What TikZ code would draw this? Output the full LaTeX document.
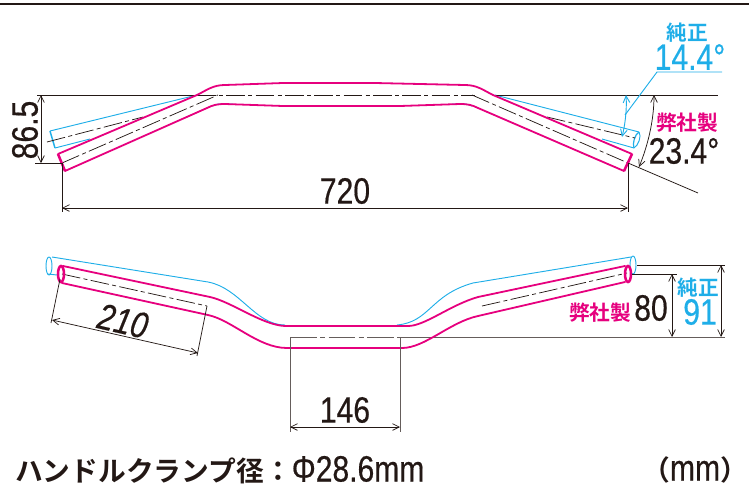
\documentclass[tikz,border=0pt]{standalone}
\usepackage{fontspec}
\usetikzlibrary{arrows.meta}
\setmainfont{Liberation Sans}
\newfontfamily\cond[FakeStretch=0.82,FakeBold=0.5]{Liberation Sans}
\newfontfamily\jp{Noto Sans CJK JP Bold}
\definecolor{pk}{HTML}{E6007E}
\definecolor{bl}{HTML}{1FAEE8}
\definecolor{ink}{HTML}{231815}
\tikzset{
  x=.75pt,y=-.75pt,
  pinkline/.style={draw=pk,line width=1.35pt,line cap=round,line join=round},
  blueline/.style={draw=bl,line width=.7pt,line join=round},
  thin ink/.style={draw=ink,line width=.55pt},
  center ink/.style={draw=ink,line width=.55pt,dash pattern=on 14pt off 2.5pt on 3pt off 2.5pt},
  gray ink/.style={draw=ink!70,line width=.75pt},
  dimline/.style={draw=ink,line width=.55pt,{Straight Barb[length=5pt,width=5pt]}-{Straight Barb[length=5pt,width=5pt]}},
  dimblue/.style={draw=bl,line width=.7pt,{Straight Barb[length=5pt,width=5pt]}-{Straight Barb[length=5pt,width=5pt]}},
  num/.style={font=\cond\fontsize{27.5}{27.5}\selectfont,text=ink,inner sep=0pt},
  numblue/.style={font=\cond\fontsize{27.5}{27.5}\selectfont,text=bl,inner sep=0pt},
  jppink/.style={font=\jp\fontsize{15.5}{15.5}\selectfont,text=pk,inner sep=0pt},
  jpblue/.style={font=\jp\fontsize{15.5}{15.5}\selectfont,text=bl,inner sep=0pt},
}
\begin{document}
\begin{tikzpicture}
\useasboundingbox (0,0) rectangle (749,486);
\draw[draw=ink,line width=1.8pt] (0,4) -- (749,4);

% ---- top view: original bar (blue)
\draw[blueline] (50,131) -- (197,95);
\draw[blueline] (55,148) -- (90,139);
\draw[blueline] (212,106) -- (218,104) -- (233,104);
\draw[blueline] (495,95) -- (639,132);
\draw[blueline] (602,139) -- (634,148);
\draw[blueline] (452,104) -- (466,104) -- (472,106);
\draw[draw=bl,line width=1.1pt] (50,131) -- (55,148);
\draw[blueline] (639,132) .. controls (642,136) and (638,146) .. (634,148);
\draw[draw=bl,line width=.9pt] (639,132) .. controls (635,134) and (632,144) .. (634,148);

% ---- top view: reference lines
\draw[thin ink] (37,95) -- (197,95);
\draw[center ink] (197,95) -- (475,95);
\draw[thin ink] (495,95) -- (718,95);
\draw[center ink] (62,163) -- (218,95);
\draw[center ink] (472,95) -- (628,163);
\draw[thin ink] (628,163) -- (698,193);
\draw[center ink] (47,142) -- (143,117);
\draw[center ink] (547,117) -- (635,138);

% ---- top view: this bar (pink)
\draw[pinkline] (58,154) -- (197,95) .. controls (207,90) and (213,85) .. (225,85) -- (283,83) -- (375,83) -- (465,85) .. controls (477,85) and (483,90) .. (493,95) -- (632,154);
\draw[pinkline] (65,171) -- (207,108) .. controls (213,105) and (217,104) .. (225,104) -- (283,106) -- (400,106) -- (460,104) .. controls (468,104) and (472,105) .. (478,108) -- (624,171);
\draw[draw=pk,line width=1.9pt] (58,154) -- (65,171);
\draw[draw=pk,line width=1.9pt] (632,154) -- (624,171);

% ---- top view: dimensions
\coordinate (a1) at (41,95); \coordinate (a2) at (41,163);
\draw[thin ink] (35,163) -- (63,163);
\draw[dimline] (a1) -- (a2);
\node[num,rotate=90] (t865) at (25,130) {86.5};
\coordinate (w1) at (62,208); \coordinate (w2) at (628,208);
\draw[thin ink] (62,163) -- (62,212);
\draw[thin ink] (628,163) -- (628,212);
\draw[dimline] (w1) -- (w2);
\node[num] (t720) at (345,191) {720};

\coordinate (b1) at (626,95); \coordinate (b2) at (622,137);
\draw[dimblue] (b1) .. controls (627,110) and (625,125) .. (b2);
\coordinate (l1) at (722,72); \coordinate (l2) at (657,72); \coordinate (l3) at (625,115);
\draw[blueline] (l1) -- (l2) -- (l3);
\node[jpblue] (ja) at (687,33) {純正};
\node[numblue] (t144) at (690,57) {14.4°};

\coordinate (c1) at (654,95); \coordinate (c2) at (639,167);
\draw[dimline] (c1) .. controls (654,120) and (648,145) .. (c2);
\node[jppink] (jb) at (687,123) {弊社製};
\node[num] (t234) at (684,151) {23.4°};

% ---- lower view: original bar (blue)
\draw[blueline] (52,257) -- (208,282) .. controls (240,288) and (255,325) .. (285,325);
\draw[blueline] (397,325) .. controls (430,322) and (430,295) .. (473,283) -- (631,257);
\draw[blueline] (48,274) -- (57,275);
\draw[blueline] (49,266) ellipse [x radius=3,y radius=9];
\draw[blueline] (633,265) ellipse [x radius=3,y radius=9];

% ---- lower view: reference lines
\draw[center ink] (62,274) -- (207,306);
\draw[center ink] (482,306) -- (627,273);
\draw[gray ink,dash pattern=on 20pt off 2.5pt on 4pt off 2.5pt] (290,337) -- (400,337);
\draw[gray ink] (400,337) -- (725,337);

% ---- lower view: this bar (pink)
\draw[pinkline] (63,266) -- (210,297) .. controls (232,302) and (262,325) .. (285,326) -- (408,326) .. controls (425,326) and (450,305) .. (478,297) -- (625,266);
\draw[pinkline] (62,283) -- (208,315) .. controls (232,320) and (258,348) .. (287,348) -- (402,348) .. controls (425,348) and (450,322) .. (478,316) -- (625,282);
\draw[draw=pk,line width=1.9pt] (61,274) ellipse [x radius=3,y radius=8];
\draw[draw=pk,line width=1.9pt] (628,274) ellipse [x radius=3,y radius=8];

% ---- lower view: dimensions
\draw[thin ink] (60,279) -- (51,323);
\draw[thin ink] (207,306) -- (197,356);
\coordinate (d1) at (52,320); \coordinate (d2) at (198,353);
\draw[dimline] (d1) -- (d2);
\node[num,rotate=-13,font=\cond\fontsize{27.5}{27.5}\selectfont\itshape] (t210) at (123,321) {210};

\draw[gray ink] (290,337) -- (290,432);
\draw[gray ink] (400,337) -- (400,432);
\coordinate (e1) at (290,427); \coordinate (e2) at (400,427);
\draw[dimline] (e1) -- (e2);
\node[num] (t146) at (345,410) {146};

\draw[thin ink] (632,274) -- (677,274);
\draw[thin ink] (637,265) -- (725,265);
\coordinate (f1) at (672,274); \coordinate (f2) at (672,337);
\draw[dimline] (f1) -- (f2);
\coordinate (g1) at (721,265); \coordinate (g2) at (721,337);
\draw[dimline] (g1) -- (g2);
\node[jppink] (jc) at (600,313) {弊社製};
\node[num] (t80) at (651,308) {80};
\node[jpblue] (jd) at (698,288) {純正};
\node[numblue] (t91) at (700,312) {91};

% ---- footer
\node[anchor=west,inner sep=0pt,text=ink] (clamp) at (15,470) {\jp\fontsize{20.8}{21}\selectfont ハンドルクランプ径：\cond\fontsize{27.5}{27.5}\selectfont Φ28.6mm};
\node[anchor=west,inner sep=0pt,text=ink] (unit) at (642,470) {\jp\fontsize{20.8}{21}\selectfont （\cond\fontsize{27.5}{27.5}\selectfont mm\jp\fontsize{20.8}{21}\selectfont ）};
\end{tikzpicture}
\end{document}
